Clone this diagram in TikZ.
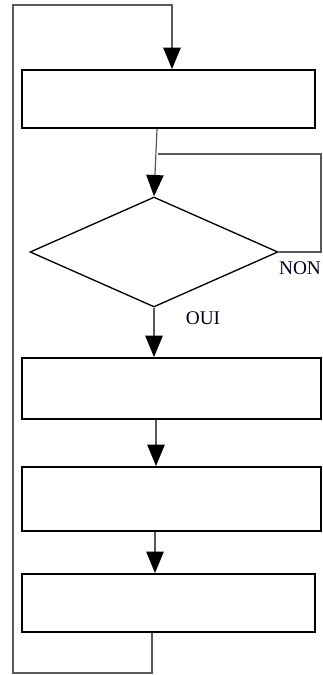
\documentclass[tikz,border=0pt]{standalone}
\usepackage{fontspec}
\setmainfont{Liberation Serif}
\usetikzlibrary{arrows.meta,shapes.geometric,calc}
\begin{document}
\begin{tikzpicture}[x=0.75pt,y=-0.75pt,
    blk/.style={rectangle,draw,line width=1.4pt,inner sep=0pt},
    lnk/.style={draw=black!65,line width=0.9pt},
    arr/.style={lnk,-{Triangle[length=16pt,width=13pt,color=black]}},
    lbl/.style={inner sep=0pt,font=\fontsize{14.5}{16}\selectfont,text=black!90!blue}]
\useasboundingbox (0,0) rectangle (322,675);
\node[blk,minimum width=219.75pt,minimum height=43.5pt] (b1) at (168.5,99) {};
\node[diamond,draw,line width=1pt,inner sep=0pt,aspect=2.25,minimum width=186pt,minimum height=82.5pt] (d) at (154,252) {};
\node[blk,minimum width=224.25pt,minimum height=45.75pt] (b2) at (171.5,388.5) {};
\node[blk,minimum width=224.25pt,minimum height=48pt] (b3) at (171.5,499) {};
\node[blk,minimum width=219.75pt,minimum height=43.5pt] (b4) at (168.5,603) {};
\node[lbl] (non) at (300,268) {NON};
\node[lbl] (oui) at (203,318) {OUI};
\coordinate (bl) at (13,673);\coordinate (tl) at (13,5);\coordinate (rc) at (321,252);
\draw[arr] ($(b4.south)+(-16.5,0)$) |- (bl) -- (tl) -| ($(b1.north)+(3.5,0)$);
\draw[arr] ($(b1.south)+(-11.5,0)$) -- (d.north);
\draw[lnk] ($(b1.south)+(-10.5,25)$) -| (rc) -- (d.east);
\draw[arr] (d.south) -- (d.south |- b2.north);
\draw[arr] ($(b2.south)+(-15.5,0)$) -- ($(b3.north)+(-15.5,0)$);
\draw[arr] ($(b3.south)+(-16.5,0)$) -- ($(b4.north)+(-13.5,0)$);
\end{tikzpicture}
\end{document}
